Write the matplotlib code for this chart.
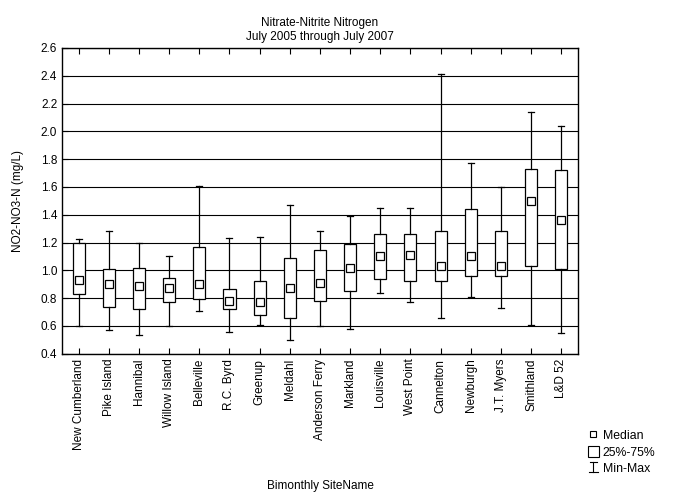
import matplotlib
matplotlib.use("Agg")
import matplotlib.pyplot as plt
from matplotlib.lines import Line2D
from matplotlib.patches import Rectangle
from matplotlib.legend_handler import HandlerBase

plt.rcParams['font.family'] = ['Liberation Sans', 'DejaVu Sans']

sites = ["New Cumberland", "Pike Island", "Hannibal", "Willow Island",
         "Belleville", "R.C. Byrd", "Greenup", "Meldahl", "Anderson Ferry",
         "Markland", "Louisville", "West Point", "Cannelton", "Newburgh",
         "J.T. Myers", "Smithland", "L&D 52"]
medians = [0.93, 0.90, 0.89, 0.87, 0.90, 0.78, 0.775, 0.87, 0.91,
           1.02, 1.10, 1.11, 1.03, 1.10, 1.03, 1.50, 1.36]
q1 = [0.83, 0.735, 0.72, 0.77, 0.795, 0.72, 0.68, 0.66, 0.78,
      0.855, 0.94, 0.92, 0.925, 0.96, 0.96, 1.03, 1.01]
q3 = [1.20, 1.01, 1.015, 0.945, 1.165, 0.865, 0.925, 1.09, 1.15,
      1.19, 1.26, 1.26, 1.28, 1.44, 1.28, 1.73, 1.72]
mins = [0.60, 0.57, 0.535, 0.60, 0.71, 0.555, 0.61, 0.50, 0.60,
        0.58, 0.84, 0.775, 0.66, 0.805, 0.73, 0.605, 0.55]
maxs = [1.225, 1.28, 1.20, 1.10, 1.61, 1.23, 1.24, 1.47, 1.28,
        1.39, 1.45, 1.45, 2.41, 1.77, 1.60, 2.14, 2.04]


class MinMaxHandler(HandlerBase):
    # vertical bar with a short top cap and a wider bottom cap
    def create_artists(self, legend, orig_handle, xd, yd, w, h, fs, trans):
        cx = xd + w / 2
        top = yd + h * 0.75
        bot = yd - h * 0.1
        lines = [
            Line2D([cx, cx], [bot, top]),
            Line2D([cx - w * 0.3, cx + w * 0.3], [top, top]),
            Line2D([cx - w * 0.45, cx + w * 0.45], [bot, bot]),
        ]
        for ln in lines:
            ln.set_color('black')
            ln.set_linewidth(0.8)
            ln.set_transform(trans)
        return lines


stats = []
for name, md, a, b, lo, hi in zip(sites, medians, q1, q3, mins, maxs):
    stats.append(dict(label=name, med=md, q1=a, q3=b, whislo=lo,
                      whishi=hi, mean=md, fliers=[]))

fig = plt.figure(figsize=(6.75, 4.99), dpi=100)
ax = fig.add_axes([0.092, 0.291, 0.764, 0.613])

ax.bxp(stats, widths=0.4, capwidths=0.2, patch_artist=True,
       showmeans=True, showfliers=False,
       boxprops=dict(facecolor='white', edgecolor='black', linewidth=0.9),
       whiskerprops=dict(color='black', linewidth=0.9),
       capprops=dict(color='black', linewidth=0.9),
       medianprops=dict(linewidth=0),
       meanprops=dict(marker='s', markersize=6, markerfacecolor='white',
                      markeredgecolor='black', markeredgewidth=0.9),
       zorder=3)

ax.set_ylim(0.4, 2.6)
ax.set_xlim(0.45, len(sites) + 0.55)
ax.set_yticks([0.4 + 0.2 * i for i in range(12)])
ax.set_yticklabels([f"{0.4 + 0.2 * i:.1f}" for i in range(12)], fontsize=8.5)
ax.set_xticks(range(1, len(sites) + 1))
ax.set_xticklabels(sites, rotation=90, fontsize=8.5)
ax.yaxis.grid(True, color='black', linewidth=0.8)
ax.set_axisbelow(True)
ax.tick_params(axis='x', direction='in', top=True, length=4)
ax.tick_params(axis='y', direction='in', length=4)
for s in ax.spines.values():
    s.set_linewidth(1.0)

ax.set_title("Nitrate-Nitrite Nitrogen\nJuly 2005 through July 2007",
             fontsize=8.5, pad=6)
ax.set_ylabel("NO2-NO3-N (mg/L)", fontsize=8.5, labelpad=12)
fig.text(0.474, 0.02, "Bimonthly SiteName", ha='center', fontsize=8.5)

med_h = Line2D([], [], linestyle='none', marker='s', markersize=5,
               markerfacecolor='white', markeredgecolor='black',
               markeredgewidth=0.8)
box_h = Rectangle((0, 0), 1, 1, facecolor='white', edgecolor='black',
                  linewidth=0.8)
err_h = object()
fig.legend([med_h, box_h, err_h], ["Median", "25%-75%", "Min-Max"],
           handler_map={err_h: MinMaxHandler()},
           loc='lower left', bbox_to_anchor=(0.862, 0.035), frameon=False,
           fontsize=8.8, handlelength=0.9, handleheight=1.1,
           handletextpad=0.3, labelspacing=0.3, borderpad=0)

fig.savefig("out.png", dpi=100)
